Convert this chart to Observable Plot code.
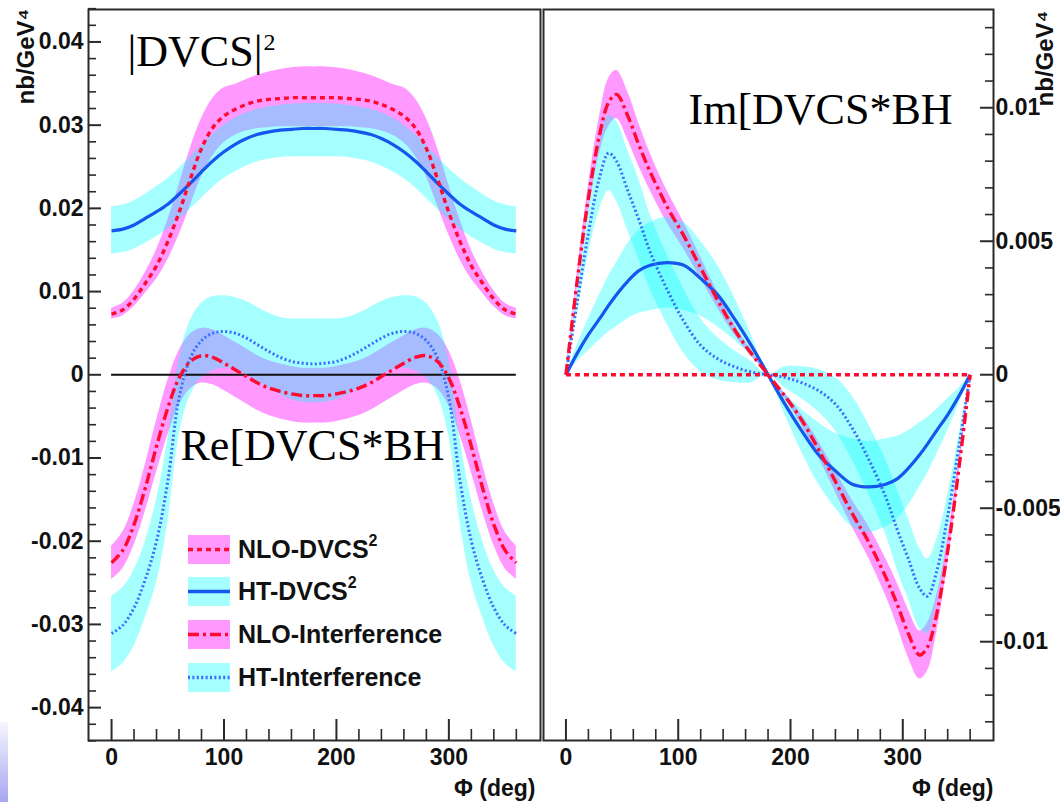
<!DOCTYPE html>
<html><head><meta charset="utf-8">
<script src="https://cdn.jsdelivr.net/npm/d3@7"></script>
<script src="https://cdn.jsdelivr.net/npm/@observablehq/plot@0.6"></script>
<style>
html,body{margin:0;padding:0;background:#fff;width:1060px;height:802px;overflow:hidden;}
#wrap{position:relative;width:1060px;height:802px;}
.panel{position:absolute;top:0;}
.panel svg{overflow:visible;max-width:none;background:transparent;}
#legend{position:absolute;left:188px;top:535px;font-family:"Liberation Sans",Arial,Helvetica,sans-serif;font-weight:bold;font-size:25px;color:#111;}
.row{position:absolute;left:0;height:29px;display:flex;align-items:center;white-space:nowrap;}
.row svg{display:block;margin-right:8px;}
.row sup{font-size:16px;vertical-align:top;position:relative;top:-3px;}
#grad{position:absolute;left:0;top:722px;width:8px;height:80px;background:linear-gradient(to bottom,#f6f6ff,#a6a6f2);}
</style></head><body>
<div id="wrap"><div id="grad"></div><div id="left" class="panel" style="left:0"></div><div id="right" class="panel" style="left:530px"></div><div id="legend"></div></div>
<script>
// ---------- data: left panel (|DVCS|^2 and Re[DVCS*BH]) ----------
const phiL = [0,10,20,30,40,50,60,70,80,90,100,110,120,130,140,150,160,170,180,190,200,210,220,230,240,250,260,270,280,290,300,310,320,330,340,350,360];
const nloDvcsL   = [0.0073,0.0078,0.0091,0.0110,0.0131,0.0160,0.0195,0.0235,0.0272,0.0297,0.0311,0.0319,0.0325,0.0329,0.0331,0.0332,0.0333,0.0333,0.0333,0.0333,0.0333,0.0332,0.0331,0.0329,0.0325,0.0319,0.0311,0.0297,0.0272,0.0235,0.0195,0.0160,0.0131,0.0110,0.0091,0.0078,0.0073];
const nloDvcsHiL = [0.0080,0.0086,0.0101,0.0123,0.0150,0.0186,0.0228,0.0272,0.0308,0.0332,0.0345,0.0349,0.0355,0.0360,0.0364,0.0367,0.0369,0.0370,0.0370,0.0370,0.0369,0.0367,0.0364,0.0360,0.0355,0.0349,0.0345,0.0332,0.0308,0.0272,0.0228,0.0186,0.0150,0.0123,0.0101,0.0086,0.0080];
const nloDvcsLoL = [0.0067,0.0071,0.0082,0.0098,0.0115,0.0138,0.0168,0.0203,0.0238,0.0263,0.0279,0.0288,0.0293,0.0296,0.0297,0.0298,0.0298,0.0298,0.0298,0.0298,0.0298,0.0298,0.0297,0.0296,0.0293,0.0288,0.0279,0.0263,0.0238,0.0203,0.0168,0.0138,0.0115,0.0098,0.0082,0.0071,0.0067];
const htDvcsL    = [0.0173,0.0175,0.0180,0.0188,0.0196,0.0205,0.0217,0.0230,0.0244,0.0257,0.0268,0.0277,0.0284,0.0289,0.0292,0.0294,0.0295,0.0296,0.0296,0.0296,0.0295,0.0294,0.0292,0.0289,0.0284,0.0277,0.0268,0.0257,0.0244,0.0230,0.0217,0.0205,0.0196,0.0188,0.0180,0.0175,0.0173];
const htDvcsHiL  = [0.0202,0.0204,0.0209,0.0217,0.0226,0.0236,0.0248,0.0262,0.0276,0.0289,0.0300,0.0309,0.0315,0.0319,0.0322,0.0324,0.0325,0.0326,0.0326,0.0326,0.0325,0.0324,0.0322,0.0319,0.0315,0.0309,0.0300,0.0289,0.0276,0.0262,0.0248,0.0236,0.0226,0.0217,0.0209,0.0204,0.0202];
const htDvcsLoL  = [0.0145,0.0147,0.0151,0.0158,0.0166,0.0175,0.0186,0.0199,0.0212,0.0225,0.0236,0.0244,0.0251,0.0256,0.0259,0.0261,0.0262,0.0262,0.0262,0.0262,0.0262,0.0261,0.0259,0.0256,0.0251,0.0244,0.0236,0.0225,0.0212,0.0199,0.0186,0.0175,0.0166,0.0158,0.0151,0.0147,0.0145];
const nloIntL    = [-0.0226,-0.0211,-0.0180,-0.0136,-0.0086,-0.0040,-0.0004,0.0016,0.0023,0.0021,0.0014,0.0006,-0.0002,-0.0010,-0.0016,-0.0020,-0.0023,-0.0025,-0.0025,-0.0025,-0.0023,-0.0020,-0.0016,-0.0010,-0.0002,0.0006,0.0014,0.0021,0.0023,0.0016,-0.0004,-0.0040,-0.0086,-0.0136,-0.0180,-0.0211,-0.0226];
const nloIntHiL  = [-0.0206,-0.0189,-0.0155,-0.0108,-0.0055,-0.0007,0.0029,0.0049,0.0056,0.0054,0.0047,0.0039,0.0031,0.0023,0.0017,0.0013,0.0010,0.0008,0.0008,0.0008,0.0010,0.0013,0.0017,0.0023,0.0031,0.0039,0.0047,0.0054,0.0056,0.0049,0.0029,-0.0007,-0.0055,-0.0108,-0.0155,-0.0189,-0.0206];
const nloIntLoL  = [-0.0246,-0.0233,-0.0205,-0.0164,-0.0117,-0.0073,-0.0037,-0.0017,-0.0010,-0.0012,-0.0019,-0.0027,-0.0035,-0.0043,-0.0049,-0.0053,-0.0056,-0.0058,-0.0058,-0.0058,-0.0056,-0.0053,-0.0049,-0.0043,-0.0035,-0.0027,-0.0019,-0.0012,-0.0010,-0.0017,-0.0037,-0.0073,-0.0117,-0.0164,-0.0205,-0.0233,-0.0246];
const htIntL     = [-0.0311,-0.0301,-0.0280,-0.0246,-0.0200,-0.0128,-0.0028,0.0020,0.0041,0.0050,0.0052,0.0050,0.0044,0.0036,0.0028,0.0021,0.0016,0.0014,0.0013,0.0014,0.0016,0.0021,0.0028,0.0036,0.0044,0.0050,0.0052,0.0050,0.0041,0.0020,-0.0028,-0.0128,-0.0200,-0.0246,-0.0280,-0.0301,-0.0311];
const htIntHiL   = [-0.0266,-0.0256,-0.0235,-0.0200,-0.0150,-0.0078,0.0018,0.0065,0.0086,0.0094,0.0095,0.0093,0.0088,0.0081,0.0074,0.0069,0.0067,0.0067,0.0067,0.0067,0.0067,0.0069,0.0074,0.0081,0.0088,0.0093,0.0095,0.0094,0.0086,0.0065,0.0018,-0.0078,-0.0150,-0.0200,-0.0235,-0.0256,-0.0266];
const htIntLoL   = [-0.0357,-0.0347,-0.0326,-0.0292,-0.0250,-0.0178,-0.0074,-0.0025,-0.0004,0.0005,0.0008,0.0006,0.0000,-0.0008,-0.0016,-0.0024,-0.0030,-0.0033,-0.0034,-0.0033,-0.0030,-0.0024,-0.0016,-0.0008,0.0000,0.0006,0.0008,0.0005,-0.0004,-0.0025,-0.0074,-0.0178,-0.0250,-0.0292,-0.0326,-0.0347,-0.0357];

// ---------- data: right panel (Im[DVCS*BH]) ----------
const phiR = [0,10,20,30,38,45,55,65,75,90,105,120,135,150,165,180,195,210,225,240,255,270,285,295,305,315,322,330,340,350,360];
const nloDvcsR  = [0,0,0,0,0,0,0,0,0,0,0,0,0,0,0,0,0,0,0,0,0,0,0,0,0,0,0,0,0,0,0];
const htDvcsR   = [0,0.0008,0.0015,0.0021,0.0026,0.0030,0.0035,0.0039,0.0041,0.0042,0.0041,0.0036,0.0030,0.0021,0.0011,0,-0.0011,-0.0021,-0.0030,-0.0036,-0.0041,-0.0042,-0.0041,-0.0039,-0.0035,-0.0030,-0.0026,-0.0021,-0.0015,-0.0008,0];
const htDvcsHiR = [0,0.0011,0.0021,0.0030,0.0037,0.0042,0.0049,0.0054,0.0057,0.0059,0.0057,0.0050,0.0041,0.0029,0.0015,0,-0.0007,-0.0013,-0.0018,-0.0022,-0.0024,-0.0025,-0.0024,-0.0023,-0.0021,-0.0018,-0.0016,-0.0013,-0.0009,-0.0005,0];
const htDvcsLoR = [0,0.0005,0.0009,0.0013,0.0016,0.0018,0.0021,0.0023,0.0024,0.0025,0.0024,0.0022,0.0018,0.0013,0.0007,0,-0.0015,-0.0029,-0.0041,-0.0050,-0.0057,-0.0059,-0.0057,-0.0054,-0.0049,-0.0042,-0.0037,-0.0030,-0.0021,-0.0011,0];
const nloIntR   = [0,0.0035,0.0066,0.0090,0.0102,0.0105,0.0097,0.0086,0.0076,0.0063,0.0052,0.0040,0.0028,0.0017,0.0008,0,-0.0008,-0.0017,-0.0028,-0.0040,-0.0052,-0.0063,-0.0076,-0.0086,-0.0097,-0.0105,-0.0102,-0.0090,-0.0066,-0.0035,0];
const nloIntHiR = [0,0.0038,0.0071,0.0097,0.0111,0.0114,0.0106,0.0094,0.0083,0.0069,0.0057,0.0044,0.0031,0.0019,0.0009,0,-0.0007,-0.0015,-0.0025,-0.0036,-0.0047,-0.0057,-0.0069,-0.0078,-0.0088,-0.0096,-0.0093,-0.0083,-0.0061,-0.0032,0];
const nloIntLoR = [0,0.0032,0.0061,0.0083,0.0093,0.0096,0.0088,0.0078,0.0069,0.0057,0.0047,0.0036,0.0025,0.0015,0.0007,0,-0.0009,-0.0019,-0.0031,-0.0044,-0.0057,-0.0069,-0.0083,-0.0094,-0.0106,-0.0114,-0.0111,-0.0097,-0.0071,-0.0038,0];
const htIntR    = [0,0.0027,0.0053,0.0074,0.0083,0.0080,0.0069,0.0058,0.0046,0.0032,0.0020,0.0011,0.0006,0.0003,0.0001,0,-0.0001,-0.0003,-0.0006,-0.0011,-0.0020,-0.0032,-0.0046,-0.0058,-0.0069,-0.0080,-0.0083,-0.0074,-0.0053,-0.0027,0];
const htIntHiR  = [0,0.0031,0.0061,0.0086,0.0097,0.0095,0.0084,0.0073,0.0060,0.0045,0.0032,0.0021,0.0014,0.0009,0.0005,0,0.0003,0.0003,0.0002,-0.0001,-0.0008,-0.0019,-0.0032,-0.0043,-0.0054,-0.0065,-0.0069,-0.0062,-0.0045,-0.0023,0];
const htIntLoR  = [0,0.0023,0.0045,0.0062,0.0069,0.0065,0.0054,0.0043,0.0032,0.0019,0.0008,0.0001,-0.0002,-0.0003,-0.0003,0,-0.0005,-0.0009,-0.0014,-0.0021,-0.0032,-0.0045,-0.0060,-0.0073,-0.0084,-0.0095,-0.0097,-0.0086,-0.0061,-0.0031,0];

// ---------- axes ----------
const xMajor = [0,100,200,300];
const xLabels = ["0","100","200","300"];
const xMinor = [20,40,60,80,120,140,160,180,220,240,260,280,320,340,360];
const yMajorL = [-0.04,-0.03,-0.02,-0.01,0,0.01,0.02,0.03,0.04];
const yLabelsL = ["-0.04","-0.03","-0.02","-0.01","0","0.01","0.02","0.03","0.04"];
const yMajorR = [-0.01,-0.005,0,0.005,0.01];
const yLabelsR = ["-0.01","-0.005","0","0.005","0.01"];
const xTitle = "\u03A6 (deg)";
const yTitle = "nb/GeV\u2074";
const seriesNames = ["NLO-DVCS", "HT-DVCS", "NLO-Interference", "HT-Interference"];

// ---------- styles ----------
const FONT = '"Liberation Sans", Arial, Helvetica, sans-serif';
const SERIF = '"Liberation Serif", "Times New Roman", serif';
const PINK = "#ff00ff", PINK_OP = 0.4, CYAN = "#00ffff", CYAN_OP = 0.35;
const RED = "#ff0a30", BLUE = "#1456ee", BLUE2 = "#3a6cff";
const DASH = "5,4", DASHDOT = "11,4,3,4", DOT = "2,2.4";
const curve = "catmull-rom";
const H = 802, MT = 9, MB = 62, FH = H - MT - MB;
const AX = "#2a2a2a";
const lineStyle = {strokeLinecap: "butt", strokeLinejoin: "round"};

function tickMarks(side, FW, yMajor, yMinor) {
  const inset = side === "left" ? "insetRight" : "insetLeft";
  return [
    Plot.tickY(yMajor, {y: d => d, [inset]: FW - 13, stroke: AX, strokeWidth: 2}),
    Plot.tickY(yMinor, {y: d => d, [inset]: FW - 8, stroke: AX, strokeWidth: 1.6}),
    Plot.tickX(xMajor, {x: d => d, insetTop: FH - 21, stroke: AX, strokeWidth: 2}),
    Plot.tickX(xMinor, {x: d => d, insetTop: FH - 11, stroke: AX, strokeWidth: 1.6}),
    Plot.text(xMajor, {x: d => d, text: (d, i) => xLabels[i], frameAnchor: "bottom", dy: 17, lineAnchor: "middle", fontSize: 23, fontWeight: "bold", fill: "#111", fontFamily: FONT})
  ];
}

// ---------- left panel ----------
const rowsL = phiL.map((p, i) => ({phi: p,
  nloD: nloDvcsL[i], nloDHi: nloDvcsHiL[i], nloDLo: nloDvcsLoL[i],
  htD: htDvcsL[i], htDHi: htDvcsHiL[i], htDLo: htDvcsLoL[i],
  nloI: nloIntL[i], nloIHi: nloIntHiL[i], nloILo: nloIntLoL[i],
  htI: htIntL[i], htIHi: htIntHiL[i], htILo: htIntLoL[i]}));
const LW = 560, LML = 88, LMR = 20, LFW = LW - LML - LMR;
const yMinorL = d3.range(-0.044, 0.0445, 0.002).map(v => +v.toFixed(3)).filter(v => Math.abs(v * 100 - Math.round(v * 100)) > 1e-6);

const left = Plot.plot({
  width: LW, height: H, marginLeft: LML, marginRight: LMR, marginTop: MT, marginBottom: MB,
  x: {domain: [-20.5, 381.5], axis: null},
  y: {domain: [-0.04395, 0.0439], axis: null},
  style: {background: "transparent", overflow: "visible", fontFamily: FONT},
  marks: [
    Plot.areaY(rowsL, {x: "phi", y1: "nloDLo", y2: "nloDHi", fill: PINK, fillOpacity: PINK_OP, curve}),
    Plot.areaY(rowsL, {x: "phi", y1: "nloILo", y2: "nloIHi", fill: PINK, fillOpacity: PINK_OP, curve}),
    Plot.areaY(rowsL, {x: "phi", y1: "htDLo", y2: "htDHi", fill: CYAN, fillOpacity: CYAN_OP, curve}),
    Plot.areaY(rowsL, {x: "phi", y1: "htILo", y2: "htIHi", fill: CYAN, fillOpacity: CYAN_OP, curve}),
    Plot.ruleY([0], {x1: 0, x2: 360, stroke: "#111", strokeWidth: 2}),
    Plot.line(rowsL, {x: "phi", y: "htD", stroke: BLUE, strokeWidth: 3.2, curve, ...lineStyle}),
    Plot.line(rowsL, {x: "phi", y: "htI", stroke: BLUE2, strokeWidth: 3, strokeDasharray: DOT, curve, ...lineStyle}),
    Plot.line(rowsL, {x: "phi", y: "nloD", stroke: RED, strokeWidth: 3.4, strokeDasharray: DASH, curve, ...lineStyle}),
    Plot.line(rowsL, {x: "phi", y: "nloI", stroke: RED, strokeWidth: 3.4, strokeDasharray: DASHDOT, curve, ...lineStyle}),
    Plot.frame({stroke: AX, strokeWidth: 2}),
    ...tickMarks("left", LFW, yMajorL, yMinorL),
    Plot.text(yMajorL, {y: d => d, text: (d, i) => yLabelsL[i], frameAnchor: "left", textAnchor: "end", dx: -5, fontSize: 23, fontWeight: "bold", fill: "#111", fontFamily: FONT}),
    Plot.text([xTitle], {text: d => d, frameAnchor: "bottom-right", textAnchor: "end", lineAnchor: "bottom", dx: -5, dy: 55, fontSize: 23, fontWeight: "bold", fill: "#111", fontFamily: FONT}),
    Plot.text([yTitle], {text: d => d, frameAnchor: "top-left", rotate: -90, textAnchor: "end", lineAnchor: "bottom", dx: -55, dy: -1, fontSize: 24, fontWeight: "bold", fill: "#111", fontFamily: FONT}),
    Plot.text(["|DVCS|"], {text: d => d, frameAnchor: "top-left", textAnchor: "start", lineAnchor: "bottom", dx: 39, dy: 56, fontSize: 44, fontFamily: SERIF, fill: "#000"}),
    Plot.text(["2"], {text: d => d, frameAnchor: "top-left", textAnchor: "start", lineAnchor: "bottom", dx: 175, dy: 40, fontSize: 24, fontFamily: SERIF, fill: "#000"}),
    Plot.text(["Re[DVCS*BH"], {text: d => d, frameAnchor: "top-left", textAnchor: "start", lineAnchor: "bottom", dx: 92, dy: 450, fontSize: 44, fontFamily: SERIF, fill: "#000"})
  ]
});
document.getElementById("left").append(left);

// ---------- right panel ----------
const rowsR = phiR.map((p, i) => ({phi: p,
  nloD: nloDvcsR[i],
  htD: htDvcsR[i], htDHi: htDvcsHiR[i], htDLo: htDvcsLoR[i],
  nloI: nloIntR[i], nloIHi: nloIntHiR[i], nloILo: nloIntLoR[i],
  htI: htIntR[i], htIHi: htIntHiR[i], htILo: htIntLoR[i]}));
const RW = 530, RML = 13, RMR = 67, RFW = RW - RML - RMR;
const yMinorR = d3.range(-0.013, 0.0135, 0.001).map(v => +v.toFixed(3)).filter(v => Math.abs(v * 200 - Math.round(v * 200)) > 1e-6);

const right = Plot.plot({
  width: RW, height: H, marginLeft: RML, marginRight: RMR, marginTop: MT, marginBottom: MB,
  x: {domain: [-20, 380.8], axis: null},
  y: {domain: [-0.0137, 0.01368], axis: null},
  style: {background: "transparent", overflow: "visible", fontFamily: FONT},
  marks: [
    Plot.areaY(rowsR, {x: "phi", y1: "nloILo", y2: "nloIHi", fill: PINK, fillOpacity: PINK_OP, curve}),
    Plot.areaY(rowsR, {x: "phi", y1: "htDLo", y2: "htDHi", fill: CYAN, fillOpacity: CYAN_OP, curve}),
    Plot.areaY(rowsR, {x: "phi", y1: "htILo", y2: "htIHi", fill: CYAN, fillOpacity: CYAN_OP, curve}),
    Plot.line(rowsR, {x: "phi", y: "htD", stroke: BLUE, strokeWidth: 3.2, curve, ...lineStyle}),
    Plot.line(rowsR, {x: "phi", y: "htI", stroke: BLUE2, strokeWidth: 3, strokeDasharray: DOT, curve, ...lineStyle}),
    Plot.line(rowsR, {x: "phi", y: "nloD", stroke: RED, strokeWidth: 3.4, strokeDasharray: DASH, curve, ...lineStyle}),
    Plot.line(rowsR, {x: "phi", y: "nloI", stroke: RED, strokeWidth: 3.4, strokeDasharray: DASHDOT, curve, ...lineStyle}),
    Plot.frame({stroke: AX, strokeWidth: 2}),
    ...tickMarks("right", RFW, yMajorR, yMinorR),
    Plot.text(yMajorR, {y: d => d, text: (d, i) => yLabelsR[i], frameAnchor: "right", textAnchor: "start", dx: 2, fontSize: 23, fontWeight: "bold", fill: "#111", fontFamily: FONT}),
    Plot.text([xTitle], {text: d => d, frameAnchor: "bottom-right", textAnchor: "end", lineAnchor: "bottom", dx: 0, dy: 55, fontSize: 23, fontWeight: "bold", fill: "#111", fontFamily: FONT}),
    Plot.text([yTitle], {text: d => d, frameAnchor: "top-right", rotate: -90, textAnchor: "end", lineAnchor: "bottom", dx: 59, dy: 1, fontSize: 24, fontWeight: "bold", fill: "#111", fontFamily: FONT}),
    Plot.text(["Im[DVCS*BH"], {text: d => d, frameAnchor: "top-left", textAnchor: "start", lineAnchor: "bottom", dx: 145, dy: 114, fontSize: 44, fontFamily: SERIF, fill: "#000"})
  ]
});
document.getElementById("right").append(right);

// ---------- legend ----------
const legendItems = [
  {name: seriesNames[0], sup: "2", fill: PINK, op: PINK_OP, stroke: RED, dash: DASH},
  {name: seriesNames[1], sup: "2", fill: CYAN, op: CYAN_OP, stroke: BLUE, dash: null},
  {name: seriesNames[2], sup: "", fill: PINK, op: PINK_OP, stroke: RED, dash: DASHDOT},
  {name: seriesNames[3], sup: "", fill: CYAN, op: CYAN_OP, stroke: BLUE2, dash: DOT}
];
const legendTops = [0, 42, 85, 128];
const leg = document.getElementById("legend");
legendItems.forEach((it, i) => {
  const row = document.createElement("div");
  row.className = "row";
  row.style.top = legendTops[i] + "px";
  row.innerHTML = `<svg width="42" height="29"><rect width="42" height="29" fill="${it.fill}" fill-opacity="${it.op}"></rect><line x1="0" x2="42" y1="14.5" y2="14.5" stroke="${it.stroke}" stroke-width="3.4" ${it.dash ? `stroke-dasharray="${it.dash}"` : ""}></line></svg><span>${it.name}${it.sup ? `<sup>${it.sup}</sup>` : ""}</span>`;
  leg.append(row);
});
</script>
</body></html>
